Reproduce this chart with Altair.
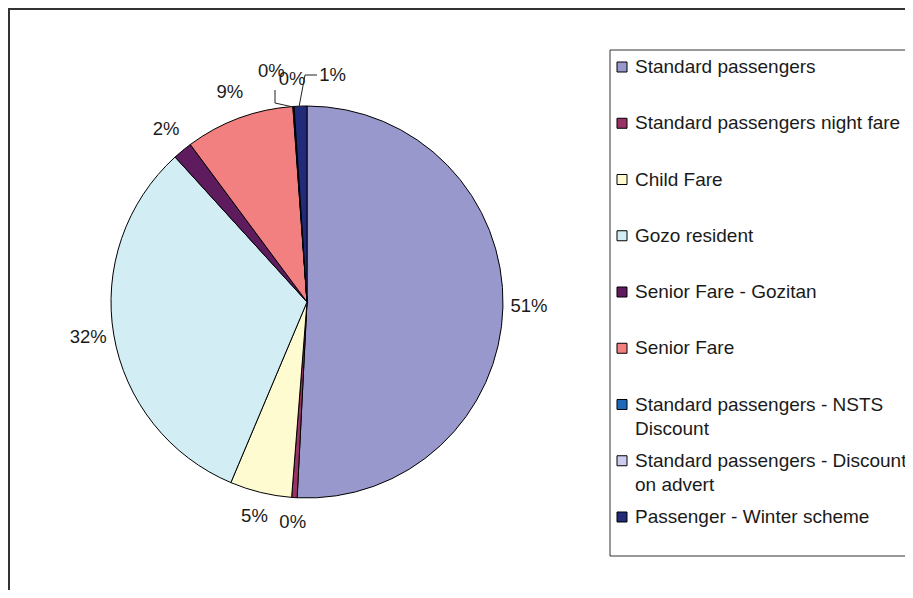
import altair as alt
import pandas as pd

categories = [
    "Standard passengers",
    "Standard passengers night fare",
    "Child Fare",
    "Gozo resident",
    "Senior Fare - Gozitan",
    "Senior Fare",
    "Standard passengers - NSTS Discount",
    "Standard passengers - Discount on advert",
    "Passenger - Winter scheme",
]
legend_labels = [
    "Standard passengers",
    "Standard passengers night fare",
    "Child Fare",
    "Gozo resident",
    "Senior Fare - Gozitan",
    "Senior Fare",
    "Standard passengers - NSTS\nDiscount",
    "Standard passengers - Discount\non advert",
    "Passenger - Winter scheme",
]
values = [50.8, 0.45, 5.1, 31.9, 1.6, 9.0, 0.05, 0.05, 1.05]
colors = ["#9898CC", "#993366", "#FDFBCF", "#D2EDF3", "#5E1B5E",
          "#F28080", "#1F6AB8", "#CCCCEE", "#222A7A"]

df = pd.DataFrame({
    "cat": categories,
    "legend": legend_labels,
    "value": values,
    "idx": list(range(len(categories))),
})

FONT = "Liberation Sans"
FS = 18.5
LFS = 19
CX, CY, R = 299, 294, 196

color = alt.Color("cat:N", scale=alt.Scale(domain=categories, range=colors), legend=None)
base = alt.Chart(df)

pie = base.mark_arc(stroke="black", strokeWidth=1, outerRadius=R).encode(
    theta=alt.Theta("value:Q", stack=True),
    order=alt.Order("idx:Q"),
    color=color,
    x=alt.value(CX), y=alt.value(CY),
)

def lbl_layer(expr, dx=0, dy=0):
    return base.transform_calculate(
        lbl=expr
    ).mark_text(font=FONT, fontSize=FS, color="#1a1a1a", dx=dx, dy=dy,
                align="center", baseline="middle").encode(
        theta=alt.Theta("value:Q", stack=True),
        order=alt.Order("idx:Q"),
        radius=alt.value(222),
        text="lbl:N",
        x=alt.value(CX), y=alt.value(CY),
    )

main_lbl = lbl_layer("(datum.idx == 6 || datum.idx == 8) ? '' : round(datum.value) + '%'", dy=-2)
nsts_lbl = lbl_layer("datum.idx == 6 ? round(datum.value) + '%' : ''", dx=-20, dy=-10)
wint_lbl = lbl_layer("datum.idx == 8 ? round(datum.value) + '%' : ''", dx=33, dy=-5)

def seg(x1, y1, x2, y2, color="#222", w=1):
    return alt.Chart(pd.DataFrame({"a": [0]})).mark_rule(color=color, strokeWidth=w).encode(
        x=alt.value(x1), y=alt.value(y1), x2=alt.value(x2), y2=alt.value(y2))

leaders = [
    seg(267, 82, 267, 95), seg(267, 95, 285, 99),
    seg(309, 67, 297, 67), seg(297, 67, 291, 99),
]

frame = [
    seg(0, 1, 920, 1, "#333", 2),
    seg(1, 0, 1, 600, "#333", 2),
]

legend_box = alt.Chart(pd.DataFrame({"a": [0]})).mark_rect(
    fillOpacity=0, stroke="#333", strokeWidth=1).encode(
    x=alt.value(602), x2=alt.value(940), y=alt.value(42), y2=alt.value(548))

ly = alt.Y("idx:Q", scale=alt.Scale(domain=[0, 8], range=[59, 509]), axis=None)
leg_sq = base.mark_square(size=100, stroke="black", strokeWidth=1, opacity=1).encode(
    x=alt.value(614), y=ly, color=color)
leg_txt = base.mark_text(font=FONT, fontSize=LFS, color="#1a1a1a", align="left",
                         baseline="top", dy=-9, lineBreak="\n", lineHeight=24).encode(
    x=alt.value(627), y=ly, text="legend:N")

chart = alt.layer(
    pie, main_lbl, nsts_lbl, wint_lbl, *leaders, *frame, legend_box, leg_sq, leg_txt
).resolve_scale(y="independent").properties(
    width=897, height=582, padding=0, autosize="none"
).configure_view(stroke=None)

chart.save("out.html", embed_options={"renderer": "svg", "actions": False})
